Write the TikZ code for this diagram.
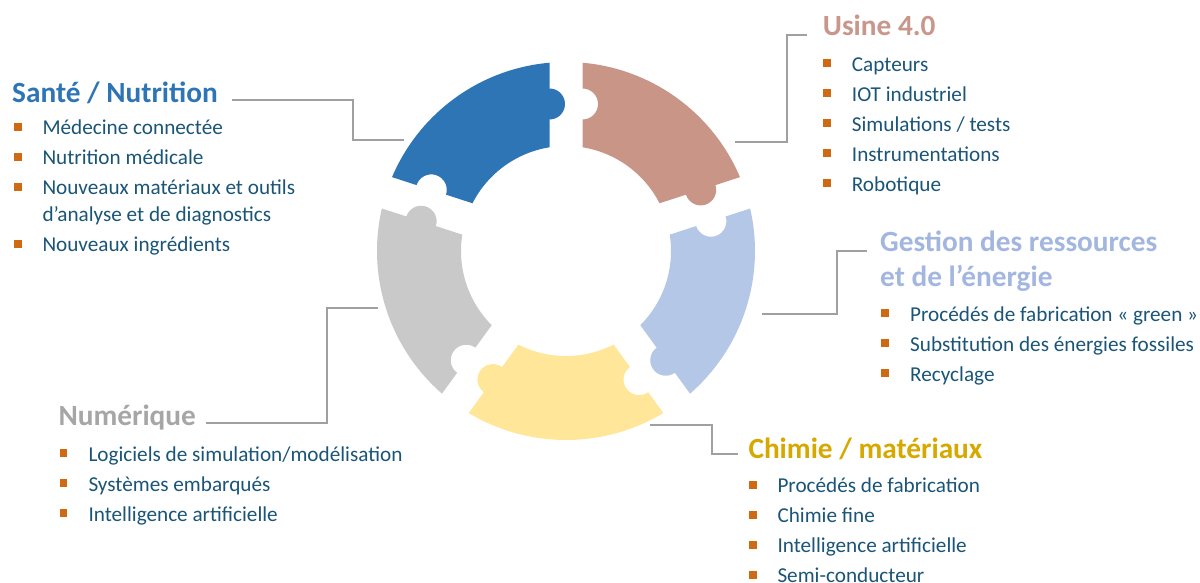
\documentclass[tikz,border=0pt]{standalone}
\usepackage{fontspec}
\setmainfont{Carlito}
\usetikzlibrary{calc}

\definecolor{santeFill}{HTML}{2E75B6}
\definecolor{usineFill}{HTML}{C89587}
\definecolor{gestionFill}{HTML}{B4C7E7}
\definecolor{chimieFill}{HTML}{FFE699}
\definecolor{numeriqueFill}{HTML}{C9C9C9}
\definecolor{santeTitre}{HTML}{2E75B6}
\definecolor{usineTitre}{HTML}{C8968A}
\definecolor{gestionTitre}{HTML}{A2B6E0}
\definecolor{chimieTitre}{HTML}{D6A800}
\definecolor{numeriqueTitre}{HTML}{A6A6A6}
\definecolor{texte}{HTML}{1A5577}
\definecolor{puce}{HTML}{CF6A12}
\definecolor{lien}{HTML}{A0A0A0}

\newcommand{\puce}{\textcolor{puce}{\rule[3.7pt]{8pt}{8pt}}\hspace{21pt}}

\tikzset{
  titre/.style={anchor=base west, inner sep=0pt, align=left, font=\fontsize{29.3}{35}\selectfont\bfseries},
  liste/.style={anchor=base west, inner sep=0pt, align=left, text=texte, font=\fontsize{21.2}{30}\selectfont},
  lien/.style={draw=lien, line width=1.4pt},
}

\begin{document}
\begin{tikzpicture}[x=1pt, y=1pt]
	\useasboundingbox (0,0) rectangle (1200,582);
	\def\Rext{189} \def\Rint{105} \def\demi{16.5} \def\Rmil{147} \def\Rtab{15.5}

	% les cinq pieces du puzzle
	\begin{scope}[shift={(566,331)}]
	\foreach \a/\b/\couleur in {90/162/santeFill, 18/90/usineFill, -54/18/gestionFill, -126/-54/chimieFill, 162/234/numeriqueFill}{
		\fill[\couleur] ({\a+asin(\demi/\Rext)}:\Rext) arc[start angle={\a+asin(\demi/\Rext)}, end angle={\b-asin(\demi/\Rext)}, radius=\Rext]
			-- ([shift={({\b-90}:\demi)}]{\b}:{\Rmil+\Rtab}) arc[start angle=\b, end angle={\b-180}, radius=\Rtab]
			-- ({\b-asin(\demi/\Rint)}:\Rint) arc[start angle={\b-asin(\demi/\Rint)}, end angle={\a+asin(\demi/\Rint)}, radius=\Rint]
			-- ([shift={({\a+90}:\demi)}]{\a}:{\Rmil-\Rtab}) arc[start angle={\a+180}, end angle={\a+360}, radius=\Rtab]
			-- cycle;
	}
	\end{scope}

	\coordinate (sante-pin) at (404,442);
	\coordinate (usine-pin) at (735,440);
	\coordinate (gestion-pin) at (762,268);
	\coordinate (numerique-pin) at (378,274);
	\coordinate (chimie-pin) at (650,157);

	% base = derniere ligne de chaque bloc
	\path (12,479.7) node[titre, text=santeTitre] (sante) {Santé / Nutrition}
		(13.3,330.2) node[liste] (sante-liste) {\puce Médecine connectée\\
			\puce Nutrition médicale\\
			\puce Nouveaux matériaux et outils\\[-3.1pt]
			\hspace{29pt}d’analyse et de diagnostics\\
			\puce Nouveaux ingrédients}
		(822.7,546.5) node[titre, text=usineTitre] (usine) {Usine 4.0}
		(822.7,390.8) node[liste] (usine-liste) {\puce Capteurs\\
			\puce IOT industriel\\
			\puce Simulations / tests\\
			\puce Instrumentations\\
			\puce Robotique}
		(880,295.3) node[titre, text=gestionTitre] (gestion) {Gestion des ressources\\et de l’énergie}
		(881,201) node[liste] (gestion-liste) {\puce Procédés de fabrication «~green~»\\
			\puce Substitution des énergies fossiles\\
			\puce Recyclage}
		(58.3,156.3) node[titre, text=numeriqueTitre] (numerique) {Numérique}
		(59.3,61) node[liste] (numerique-liste) {\puce Logiciels de simulation/modélisation\\
			\puce Systèmes embarqués\\
			\puce Intelligence artificielle}
		(748.3,123.7) node[titre, text=chimieTitre] (chimie) {Chimie / matériaux}
		(748.3,-0.7) node[liste] (chimie-liste) {\puce Procédés de fabrication\\
			\puce Chimie fine\\
			\puce Intelligence artificielle\\
			\puce Semi-conducteur};

	\draw[lien] ([xshift=14.5pt, yshift=2.3pt]sante.base east) -| ([xshift=-51pt]sante-pin) -- (sante-pin);
	\draw[lien] ([xshift=-15.7pt, yshift=0.5pt]usine.base west) -| ([xshift=52pt]usine-pin) -- (usine-pin);
	\draw[lien] ([xshift=-13pt, yshift=35.7pt]gestion.base west) -| ([xshift=75pt]gestion-pin) -- (gestion-pin);
	\draw[lien] ([xshift=10pt, yshift=2.7pt]numerique.base east) -| ([xshift=-51pt]numerique-pin) -- (numerique-pin);
	\draw[lien] (chimie-pin) -| ([xshift=-36.3pt, yshift=4.3pt]chimie.base west) -- ([xshift=-10.3pt, yshift=4.3pt]chimie.base west);
\end{tikzpicture}
\end{document}
